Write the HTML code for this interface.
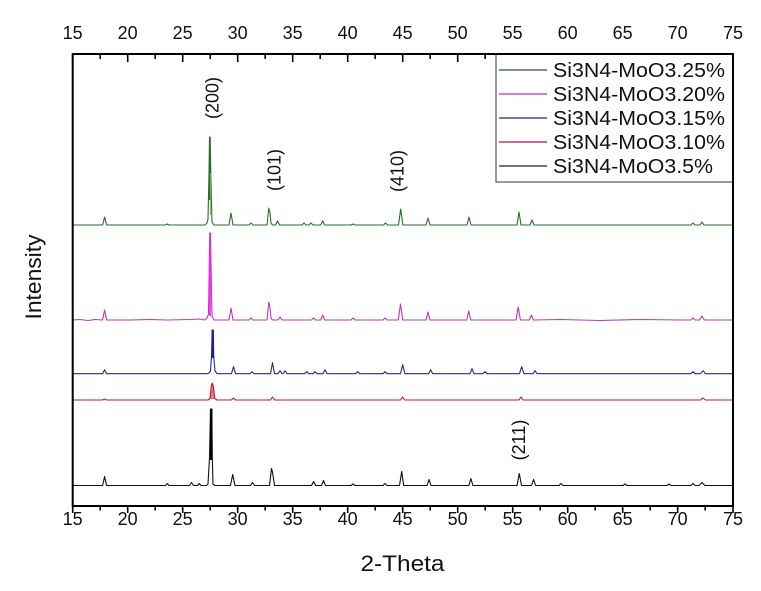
<!DOCTYPE html>
<html>
<head>
<meta charset="utf-8">
<style>
html,body{margin:0;padding:0;background:#fff;}
svg{display:block;}
text{font-family:"Liberation Sans",Arial,sans-serif;fill:#111;}
</style>
</head>
<body>
<svg width="761" height="591" viewBox="0 0 761 591" xmlns="http://www.w3.org/2000/svg">
<rect x="0" y="0" width="761" height="591" fill="#fff"/>

<!-- series -->
<g fill="none" stroke-linejoin="round">
<!-- green 25% -->
<polyline stroke="#2a6e2a" stroke-width="1.1" points="72.7,225 102.6,225 104.6,217 106.6,225 165.5,225 167.3,224 169,225 205,225 207,223 208,219 209,173 209.6,137 210.2,137 210.8,173 212,222 214,225 229,225 231,213 233,225 249,225 251,223 253,225 267,225 268.8,208 270,213 271,223 272.5,225 275.5,225 277.5,221 279.5,225 302,225 304,223 306,225 309,225 311,223 313,225 320.7,225 322.7,221 324.7,225 351,225 353,224 355,225 383.5,225 385.5,223 387.5,225 398.5,225 400.7,209 402.9,225 426,225 428,218 430,225 467,225 469,217 471,225 517,225 519,212 521,225 530,225 532,220 534,225 691,225 693,223 695,225 700,225 702,222 704,225 733,225"/>
<line x1="209.7" y1="140" x2="209.7" y2="200" stroke="#2a6e2a" stroke-width="1.6"/>
<line x1="210.6" y1="173" x2="210.6" y2="215" stroke="#6fbf4f" stroke-width="1"/>

<!-- magenta 20% -->
<polyline stroke="#b83ab8" stroke-width="1.1" points="72.7,320 80,319.5 88,320.5 95,319.5 102.6,320 104.6,310 106.6,320 130,320 150,319.5 167,320 190,319.5 199,319 205,320 207,318 208.5,314 209.3,263 209.8,233 210.6,233 211,263 212,316 214,320 229,320 231,308 233,320 249,320 251,318 253,320 267,320 268.8,302 270,308 271,318 272.5,320 278,320 280,317 282,320 311.6,320 313.6,318 315.6,320 320.7,320 322.7,315 324.7,320 351,320 353,318 355,320 383,320 385,318 387,320 398.3,320 400.5,304 402.7,320 426,320 428,312 430,320 466.7,320 468.7,311 470.7,320 516,320 518.2,307 520.4,320 529.4,320 531.4,315 533.4,320 560,319.5 600,320.5 640,319.5 680,320 691,320 693,318 695,320 699.5,320 701.9,316 704.3,320 733,320"/>
<line x1="210" y1="250" x2="210" y2="316" stroke="#ff20ff" stroke-width="1.8"/>

<!-- blue 15% -->
<polyline stroke="#2a2a8c" stroke-width="1.1" points="72.7,373.7 102.6,373.7 104.6,369.7 106.6,373.7 207,373.7 209,373 210.5,371 211.5,357 212.2,330 213.2,330 213.8,357 215,371 217,373.7 231.5,373.7 233.5,366.7 235.5,373.7 250,373.7 252,371.7 254,373.7 270.5,373.7 272.5,362.7 274.5,373.7 278,373.7 280,370.7 282,373.7 283,373.7 285,370.7 287,373.7 304.7,373.7 306.7,371.7 308.7,373.7 313,373.7 315,371.7 317,373.7 323,373.7 325,369.7 327,373.7 355.7,373.7 357.7,371.7 359.7,373.7 383,373.7 385,371.7 387,373.7 400.5,373.7 402.7,364.7 404.9,373.7 428.7,373.7 430.7,369.7 432.7,373.7 470,373.7 472,368.7 474,373.7 483,373.7 485,371.7 487,373.7 519.5,373.7 521.7,366.7 523.9,373.7 533,373.7 535,370.7 537,373.7 691,373.7 693,371.7 695,373.7 700.5,373.7 703,370.7 705.5,373.7 733,373.7"/>
<line x1="212.7" y1="330" x2="212.7" y2="358" stroke="#1e1e90" stroke-width="2.4"/>

<!-- red 10% -->
<polygon fill="#e27a7a" stroke="none" points="210,399 211.3,386 212.3,383 213.3,386 214.8,399"/>
<polyline stroke="#c0143c" stroke-width="1.1" points="72.7,400 102.6,400 104.6,399 106.6,400 208,400 210,398.5 211.3,386 212.3,383 213.3,386 214.8,398.5 217,400 231.5,400 233.5,398 235.5,400 270.5,400 272.5,397 274.5,400 400.5,400 402.5,397 404.5,400 519,400 521,397 523,400 700.5,400 703,398 705.5,400 733,400"/>

<!-- black 5% -->
<polyline stroke="#111" stroke-width="1.1" points="72.7,485.5 102.6,485.5 104.6,476.5 106.6,485.5 165.5,485.5 167.3,483.5 169,485.5 189.5,485.5 191.5,482.5 193.5,485.5 197.5,485.5 199.2,483.5 201,485.5 206.5,485.5 208,484 209.5,458 210.5,409 211.8,409 212.3,458 213,484 215,485.5 230.5,485.5 232.7,474.5 235,485.5 250.5,485.5 252.5,482.5 254.5,485.5 269.5,485.5 271.5,468.5 272.5,472 274.5,485.5 311.5,485.5 313.6,481.5 315.6,485.5 321.5,485.5 323.5,480.5 325.5,485.5 351,485.5 353,484 355,485.5 383,485.5 385,483.5 387,485.5 399.5,485.5 401.7,471.5 403.7,485.5 427,485.5 429,479.5 431,485.5 468.9,485.5 470.9,478.5 472.9,485.5 517,485.5 519.3,473.5 521.5,485.5 531.5,485.5 533.6,479.5 535.6,485.5 559,485.5 561,483.5 563,485.5 623,485.5 625,484 627,485.5 667,485.5 669,484 671,485.5 691,485.5 693,483.5 695,485.5 699,485.5 702,482.5 705,485.5 733,485.5"/>
<line x1="211.2" y1="409" x2="211.2" y2="460" stroke="#000" stroke-width="2.4"/>
</g>

<!-- axes frame -->
<g stroke="#000" stroke-width="2" fill="none">
<line x1="72.7" y1="54" x2="733" y2="54"/>
<line x1="72.7" y1="506" x2="733" y2="506"/>
<line x1="72.7" y1="53" x2="72.7" y2="507"/>
<line x1="733" y1="53" x2="733" y2="507"/>
</g>

<!-- ticks -->
<g stroke="#000" stroke-width="1.6">
<!-- top major (inward) -->
<line x1="72.7" y1="54" x2="72.7" y2="62"/><line x1="127.7" y1="54" x2="127.7" y2="62"/><line x1="182.7" y1="54" x2="182.7" y2="62"/><line x1="237.7" y1="54" x2="237.7" y2="62"/><line x1="292.7" y1="54" x2="292.7" y2="62"/><line x1="347.7" y1="54" x2="347.7" y2="62"/><line x1="402.7" y1="54" x2="402.7" y2="62"/><line x1="457.7" y1="54" x2="457.7" y2="62"/><line x1="512.7" y1="54" x2="512.7" y2="62"/><line x1="567.7" y1="54" x2="567.7" y2="62"/><line x1="622.7" y1="54" x2="622.7" y2="62"/><line x1="677.7" y1="54" x2="677.7" y2="62"/>
<!-- top minor -->
<line x1="100.2" y1="54" x2="100.2" y2="59"/><line x1="155.2" y1="54" x2="155.2" y2="59"/><line x1="210.2" y1="54" x2="210.2" y2="59"/><line x1="265.2" y1="54" x2="265.2" y2="59"/><line x1="320.2" y1="54" x2="320.2" y2="59"/><line x1="375.2" y1="54" x2="375.2" y2="59"/><line x1="430.2" y1="54" x2="430.2" y2="59"/><line x1="485.2" y1="54" x2="485.2" y2="59"/>
<!-- bottom major (outward) -->
<line x1="72.7" y1="506" x2="72.7" y2="513"/><line x1="127.7" y1="506" x2="127.7" y2="513"/><line x1="182.7" y1="506" x2="182.7" y2="513"/><line x1="237.7" y1="506" x2="237.7" y2="513"/><line x1="292.7" y1="506" x2="292.7" y2="513"/><line x1="347.7" y1="506" x2="347.7" y2="513"/><line x1="402.7" y1="506" x2="402.7" y2="513"/><line x1="457.7" y1="506" x2="457.7" y2="513"/><line x1="512.7" y1="506" x2="512.7" y2="513"/><line x1="567.7" y1="506" x2="567.7" y2="513"/><line x1="622.7" y1="506" x2="622.7" y2="513"/><line x1="677.7" y1="506" x2="677.7" y2="513"/><line x1="733" y1="506" x2="733" y2="513"/>
<!-- bottom minor -->
<line x1="100.2" y1="506" x2="100.2" y2="510.5"/><line x1="155.2" y1="506" x2="155.2" y2="510.5"/><line x1="210.2" y1="506" x2="210.2" y2="510.5"/><line x1="265.2" y1="506" x2="265.2" y2="510.5"/><line x1="320.2" y1="506" x2="320.2" y2="510.5"/><line x1="375.2" y1="506" x2="375.2" y2="510.5"/><line x1="430.2" y1="506" x2="430.2" y2="510.5"/><line x1="485.2" y1="506" x2="485.2" y2="510.5"/><line x1="540.2" y1="506" x2="540.2" y2="510.5"/><line x1="595.2" y1="506" x2="595.2" y2="510.5"/><line x1="650.2" y1="506" x2="650.2" y2="510.5"/><line x1="705.2" y1="506" x2="705.2" y2="510.5"/>
</g>

<!-- top tick labels -->
<g font-size="18" text-anchor="middle">
<text x="72.7" y="39">15</text><text x="127.7" y="39">20</text><text x="182.7" y="39">25</text><text x="237.7" y="39">30</text><text x="292.7" y="39">35</text><text x="347.7" y="39">40</text><text x="402.7" y="39">45</text><text x="457.7" y="39">50</text><text x="512.7" y="39">55</text><text x="567.7" y="39">60</text><text x="622.7" y="39">65</text><text x="677.7" y="39">70</text><text x="733" y="39">75</text>
</g>
<!-- bottom tick labels -->
<g font-size="18" text-anchor="middle">
<text x="72.7" y="525">15</text><text x="127.7" y="525">20</text><text x="182.7" y="525">25</text><text x="237.7" y="525">30</text><text x="292.7" y="525">35</text><text x="347.7" y="525">40</text><text x="402.7" y="525">45</text><text x="457.7" y="525">50</text><text x="512.7" y="525">55</text><text x="567.7" y="525">60</text><text x="622.7" y="525">65</text><text x="677.7" y="525">70</text><text x="733" y="525">75</text>
</g>

<!-- axis titles -->
<text x="402.5" y="571" font-size="22" text-anchor="middle" textLength="84" lengthAdjust="spacingAndGlyphs">2-Theta</text>
<text transform="translate(41,277) rotate(-90)" font-size="22" text-anchor="middle" textLength="85" lengthAdjust="spacingAndGlyphs">Intensity</text>

<!-- hkl labels -->
<g font-size="18" text-anchor="middle">
<text transform="translate(218.5,98) rotate(-90)">(200)</text>
<text transform="translate(280.5,170) rotate(-90)">(101)</text>
<text transform="translate(403.5,171) rotate(-90)">(410)</text>
<text transform="translate(525,440) rotate(-90)">(211)</text>
</g>

<!-- legend -->
<rect x="496" y="54" width="236.5" height="128" fill="#fff" stroke="#333" stroke-width="1"/>
<line x1="733" y1="53" x2="733" y2="183" stroke="#000" stroke-width="2"/>
<line x1="496" y1="54" x2="733" y2="54" stroke="#000" stroke-width="2"/>
<g stroke-width="1.2">
<line x1="499" y1="70" x2="547" y2="70" stroke="#2a5a2a"/>
<line x1="499" y1="94" x2="547" y2="94" stroke="#c030c0"/>
<line x1="499" y1="118" x2="547" y2="118" stroke="#22228c"/>
<line x1="499" y1="142" x2="547" y2="142" stroke="#b01050"/>
<line x1="499" y1="166" x2="547" y2="166" stroke="#222"/>
</g>
<g font-size="20">
<text x="553" y="77" textLength="172" lengthAdjust="spacingAndGlyphs">Si3N4-MoO3.25%</text>
<text x="553" y="101" textLength="172" lengthAdjust="spacingAndGlyphs">Si3N4-MoO3.20%</text>
<text x="553" y="125" textLength="172" lengthAdjust="spacingAndGlyphs">Si3N4-MoO3.15%</text>
<text x="553" y="149" textLength="172" lengthAdjust="spacingAndGlyphs">Si3N4-MoO3.10%</text>
<text x="553" y="173" textLength="160" lengthAdjust="spacingAndGlyphs">Si3N4-MoO3.5%</text>
</g>
</svg>
</body>
</html>
